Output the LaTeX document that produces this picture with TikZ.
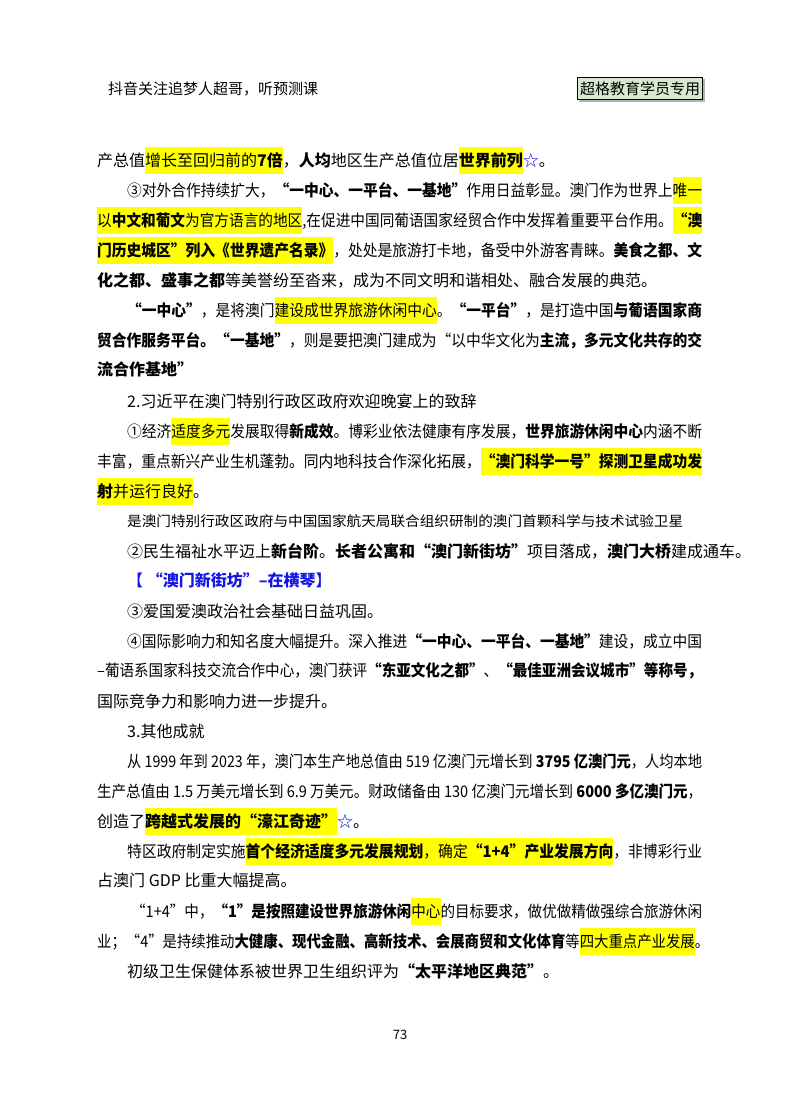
\documentclass[tikz,border=0pt]{standalone}
\usepackage{fontspec}
\usepackage{graphicx}
\setmainfont{Noto Sans CJK SC}
\definecolor{hly}{RGB}{255,255,0}
\definecolor{boxg}{RGB}{214,232,206}
\definecolor{starb}{RGB}{20,20,230}
\newcommand\hlx[1]{{\setlength{\fboxsep}{0pt}\colorbox{hly}{\strut #1}}}
\newcommand\stx{{\color{starb}☆}}
\newcommand\fl[1]{\resizebox{605pt}{\height}{#1}}
\begin{document}
\begin{tikzpicture}[x=1pt,y=-1pt,
  txt/.style={anchor=base west,inner sep=0pt,font=\fontsize{16}{27}\selectfont},
  sm/.style={anchor=base west,inner sep=0pt,font=\fontsize{14}{24}\selectfont}]
\useasboundingbox (0,0) rectangle (800,1114);
\fill[white] (0,0) rectangle (800,1114);
\node[anchor=base west,inner sep=0pt,font=\fontsize{15}{18}\selectfont] (hd) at (108,94) {抖音关注追梦人超哥，听预测课};
\fill[gray!60] (579,79) rectangle (705,102);
\node[draw=black,fill=boxg,line width=0.8pt,minimum width=125pt,minimum height=22pt,inner sep=0pt,font=\fontsize{15}{18}\selectfont] (bx) at (640,88.5) {超格教育学员专用};

\node[txt] (l1) at (97,166) {产总值\hlx{增长至回归前的\textbf{7倍}}，\textbf{人均}地区生产总值位居\hlx{\textbf{世界前列}}\stx。};
\node[txt] (l2) at (127,196) {\resizebox{575pt}{\height}{③对外合作持续扩大，\textbf{“一中心、一平台、一基地”}作用日益彰显。澳门作为世界上\hlx{唯一}}};
\node[txt] (l3) at (97,226) {\fl{\hlx{以\textbf{中文和葡文}为官方语言的地区},在促进中国同葡语国家经贸合作中发挥着重要平台作用。\hlx{\textbf{“澳}}}};
\node[txt] (l4) at (97,256) {\fl{\hlx{\textbf{门历史城区”列入《世界遗产名录》}}，处处是旅游打卡地，备受中外游客青睐。\textbf{美食之都、文}}};
\node[txt] (l5) at (97,286) {\textbf{化之都、盛事之都}等美誉纷至沓来，成为不同文明和谐相处、融合发展的典范。};
\node[txt] (l6) at (127,316) {\resizebox{575pt}{\height}{\textbf{“一中心”}，是将澳门\hlx{建设成世界旅游休闲中心}。\textbf{“一平台”}，是打造中国\textbf{与葡语国家商}}};
\node[txt] (l7) at (97,346) {\fl{\textbf{贸合作服务平台。“一基地”}，则是要把澳门建成为“以中华文化为\textbf{主流，多元文化共存的交}}};
\node[txt] (l8) at (97,375) {\textbf{流合作基地”}};
\node[txt] (l9) at (127,407) {2.习近平在澳门特别行政区政府欢迎晚宴上的致辞};
\node[txt] (l10) at (127,437) {\resizebox{575pt}{\height}{①经济\hlx{适度多元}发展取得\textbf{新成效}。博彩业依法健康有序发展，\textbf{世界旅游休闲中心}内涵不断}};
\node[txt] (l11) at (97,467) {\fl{丰富，重点新兴产业生机蓬勃。同内地科技合作深化拓展，\hlx{\textbf{“澳门科学一号”探测卫星成功发}}}};
\node[txt] (l12) at (97,497) {\hlx{\textbf{射}并运行良好}。};
\node[sm] (l13) at (127,526) {\resizebox{556pt}{\height}{是澳门特别行政区政府与中国国家航天局联合组织研制的澳门首颗科学与技术试验卫星}};
\node[txt] (l14) at (127,557) {②民生福祉水平迈上\textbf{新台阶}。\textbf{长者公寓和“澳门新街坊”}项目落成，\textbf{澳门大桥}建成通车。};
\node[txt,text=starb] (l15) at (127,586) {【 \textbf{“澳门新街坊”–在横琴}】};
\node[txt] (l16) at (127,617) {③爱国爱澳政治社会基础日益巩固。};
\node[txt] (l17) at (127,647) {\resizebox{575pt}{\height}{④国际影响力和知名度大幅提升。深入推进\textbf{“一中心、一平台、一基地”}建设，成立中国}};
\node[txt] (l18) at (97,676) {\fl{–葡语系国家科技交流合作中心，澳门获评\textbf{“东亚文化之都”}、\textbf{“最佳亚洲会议城市”等称号，}}};
\node[txt] (l19) at (97,707) {国际竞争力和影响力进一步提升。};
\node[txt] (l20) at (127,737) {3.其他成就};
\node[txt] (l21) at (127,767) {\resizebox{575pt}{\height}{从 1999 年到 2023 年，澳门本生产地总值由 519 亿澳门元增长到 \textbf{3795 亿澳门元}，人均本地}};
\node[txt] (l22) at (97,797) {\fl{生产总值由 1.5 万美元增长到 6.9 万美元。财政储备由 130 亿澳门元增长到 \textbf{6000 多亿澳门元}，}};
\node[txt] (l23) at (97,827) {创造了\hlx{\textbf{跨越式发展的“濠江奇迹”}}\stx。};
\node[txt] (l24) at (127,857) {\resizebox{575pt}{\height}{特区政府制定实施\hlx{\textbf{首个经济适度多元发展规划}，确定\textbf{“1+4”产业发展方向}}，非博彩行业}};
\node[txt] (l25) at (97,886) {占澳门 GDP 比重大幅提高。};
\node[txt] (l26) at (131,917) {\resizebox{571pt}{\height}{“1+4”中，\textbf{“1”是按照建设世界旅游休闲}\hlx{中心}的目标要求，做优做精做强综合旅游休闲}};
\node[txt] (l27) at (97,947) {\resizebox{612pt}{\height}{业；“4”是持续推动\textbf{大健康、现代金融、高新技术、会展商贸和文化体育}等\hlx{四大重点产业发展}。}};
\node[txt] (l28) at (127,977) {初级卫生保健体系被世界卫生组织评为\textbf{“太平洋地区典范”}。};
\node[anchor=base,inner sep=0pt,font=\fontsize{13}{15}\selectfont] (pg) at (400,1039) {73};
\end{tikzpicture}
\end{document}
